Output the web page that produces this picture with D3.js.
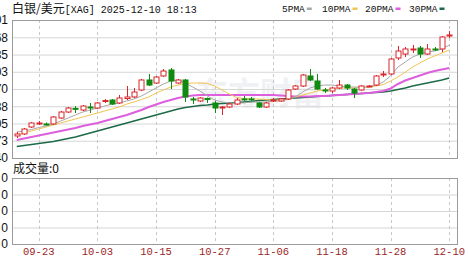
<!DOCTYPE html>
<html>
<head>
<meta charset="utf-8">
<script src="https://cdn.jsdelivr.net/npm/d3@7"></script>
<style>
  body { margin: 0; background: #fff; }
  svg { display: block; }
</style>
</head>
<body>
<div id="chart"></div>
<script>
// trading days shown on the chart
var dates = ["09-18","09-19","09-22","09-23","09-24","09-25","09-26","09-29","09-30",
  "10-01","10-02","10-03","10-06","10-07","10-08","10-09","10-10","10-13","10-14","10-15",
  "10-16","10-17","10-20","10-21","10-22","10-23","10-24","10-27","10-28","10-29","10-30","10-31",
  "11-03","11-04","11-05","11-06","11-07","11-10","11-11","11-12","11-13","11-14","11-17","11-18",
  "11-19","11-20","11-21","11-24","11-25","11-26","11-27","11-28",
  "12-01","12-02","12-03","12-04","12-05","12-08","12-09","12-10"];

var opens  = [45.37,45.64,46.58,47.05,46.99,46.99,47.79,48.60,49.10,48.87,49.28,49.14,50.02,50.22,49.82,50.42,50.63,51.57,52.92,52.51,
  53.46,54.27,52.51,52.92,50.36,50.09,50.42,49.82,49.21,49.28,49.68,50.36,50.36,49.82,49.28,50.15,50.09,50.36,51.70,52.11,
  53.46,52.78,51.57,51.43,51.84,52.24,51.70,51.57,52.04,52.24,53.66,53.73,55.89,56.42,57.03,57.23,56.42,57.10,57.10,58.85];
var highs  = [45.91,46.45,47.25,47.39,47.19,48.06,48.74,49.28,49.41,49.55,49.82,49.95,50.36,50.36,50.90,52.11,51.84,53.05,53.73,53.46,
  54.40,54.54,53.05,53.05,50.63,50.63,50.56,50.09,49.41,49.82,50.49,50.76,50.63,49.95,49.95,50.49,50.49,51.70,52.24,53.73,
  54.40,53.73,51.84,51.97,52.92,52.38,51.84,52.24,52.24,53.59,54.13,55.89,57.50,57.37,57.64,57.50,57.77,57.37,58.85,59.53];
var lows   = [45.10,45.50,46.45,46.85,46.79,46.85,47.66,48.47,48.47,48.74,48.47,49.01,49.82,49.55,49.68,50.22,50.49,51.43,52.11,52.38,
  53.32,51.70,52.38,49.95,49.68,49.95,49.82,48.47,48.20,49.14,49.55,50.09,50.09,49.14,49.14,49.95,49.95,50.22,51.57,51.97,
  52.78,51.57,51.16,51.16,51.70,51.57,50.49,51.43,51.97,52.11,53.32,53.59,55.62,56.02,56.56,55.89,56.29,56.83,56.69,58.58];
var closes = [45.64,46.31,47.12,47.12,46.95,47.93,48.60,49.14,49.05,49.41,49.21,49.82,50.15,49.68,50.49,50.63,51.30,52.92,52.24,53.32,
  54.13,52.78,52.92,50.63,50.29,50.49,50.36,49.14,49.28,49.68,50.22,50.29,50.32,49.28,49.82,50.22,50.36,51.57,52.11,53.59,
  52.92,51.70,51.50,51.84,52.24,51.84,51.16,52.11,52.11,53.46,53.73,55.75,56.83,57.10,57.10,56.42,57.10,57.03,58.72,58.99];

// moving averages
var ma5  = [45.91,46.04,46.24,46.51,46.72,46.99,47.39,47.79,48.20,48.60,48.87,49.14,49.41,49.68,49.82,50.09,50.36,50.76,51.30,51.84,
  52.38,52.78,52.92,52.51,51.97,51.43,50.76,50.22,49.95,49.82,49.82,49.82,49.95,49.95,49.95,50.09,50.09,50.36,50.63,51.30,
  51.84,52.11,52.24,52.24,52.11,51.97,51.97,51.97,51.97,52.24,52.65,53.46,54.67,55.35,56.02,56.42,56.69,56.83,57.10,57.64];
var ma10 = [45.50,45.77,46.04,46.31,46.58,46.85,47.12,47.39,47.66,47.93,48.20,48.47,48.74,49.01,49.28,49.68,49.95,50.29,50.63,51.16,
  51.57,51.97,52.24,52.45,52.51,52.51,52.45,52.11,51.57,51.03,50.56,50.42,50.36,50.36,50.29,50.22,50.22,50.29,50.63,50.90,
  51.16,51.43,51.57,51.70,51.84,51.84,51.84,51.97,51.97,52.11,52.31,52.78,53.32,53.99,54.67,55.21,55.75,56.16,56.56,56.96];
var ma20 = [44.83,45.03,45.23,45.43,45.64,45.84,46.04,46.24,46.45,46.72,46.92,47.12,47.39,47.66,47.93,48.20,48.53,48.87,49.28,49.61,
  49.95,50.22,50.49,50.69,50.83,50.90,50.90,50.90,50.90,50.90,50.90,50.90,50.90,50.90,50.90,50.90,50.83,50.76,50.69,50.69,
  50.69,50.76,50.76,50.83,50.90,50.96,51.03,51.10,51.16,51.30,51.43,51.77,52.38,52.85,53.19,53.52,53.86,54.13,54.33,54.54];
var ma30 = [43.95,44.08,44.22,44.35,44.49,44.62,44.83,45.03,45.23,45.50,45.77,46.04,46.31,46.58,46.85,47.12,47.39,47.66,47.93,48.20,
  48.47,48.74,49.01,49.21,49.35,49.48,49.55,49.68,49.75,49.82,49.88,49.95,50.02,50.15,50.22,50.29,50.36,50.42,50.49,50.56,
  50.63,50.69,50.76,50.83,50.90,50.96,51.03,51.10,51.16,51.23,51.30,51.43,51.64,51.84,52.11,52.31,52.51,52.72,52.92,53.19];

var yTicks = [42.40,44.73,47.05,49.38,51.70,54.03,56.35,58.68,61.01];
var volTicks = [0,1,2,3,4];
var volLabels = ["0","0","0","0","0"];
var xTicks = ["09-23","10-03","10-15","10-27","11-06","11-18","11-28","12-10"];
var maNames = ["5PMA","10PMA","20PMA","30PMA"];
var maColors = ["#a8a8a8","#f0c552","#dd5fdd","#1d6a48"];

var W = 468, H = 264;
var pLeft = 12, pRight = 457, pTop = 20, pBottom = 158;
var vTop = 178, vBottom = 244;

var svg = d3.select("#chart").append("svg")
    .attr("width", W)
    .attr("height", H);

var x = d3.scaleBand().domain(dates).range([pLeft, 454]).padding(0.3);
var cx = function(d) { return x(d) + x.bandwidth() / 2; };
var y = d3.scaleLinear().domain([42.40, 61.01]).range([pBottom, pTop]);
var yv = d3.scaleLinear().domain([0, 4]).range([vBottom, vTop]);

// watermark
svg.append("text")
    .attr("x", 196).attr("y", 105)
    .style("font-family", "'Noto Sans CJK SC'")
    .style("font-size", "32px")
    .style("font-weight", "bold")
    .style("fill", "#f0f1f4")
    .text("东方财富");

// horizontal grid
svg.append("g")
    .attr("transform", "translate(" + pLeft + ",0)")
    .call(d3.axisLeft(y).tickValues(yTicks).tickSize(-(pRight - pLeft)).tickFormat(""))
    .call(function(g) { g.select(".domain").remove(); })
    .selectAll("line").attr("stroke", "#d6d6d6");

svg.append("g")
    .attr("transform", "translate(" + pLeft + ",0)")
    .call(d3.axisLeft(yv).tickValues(volTicks).tickSize(-(pRight - pLeft)).tickFormat(""))
    .call(function(g) { g.select(".domain").remove(); })
    .selectAll("line").attr("stroke", "#d6d6d6");

// vertical dashed grid
[[pTop, pBottom], [vTop, vBottom]].forEach(function(r) {
  svg.append("g").selectAll("line")
    .data(xTicks)
    .enter().append("line")
      .attr("x1", function(d) { return Math.round(cx(d)) + 0.5; })
      .attr("x2", function(d) { return Math.round(cx(d)) + 0.5; })
      .attr("y1", r[0]).attr("y2", r[1])
      .attr("stroke", "#c8c8c8")
      .attr("stroke-dasharray", "3,3");
});

// y axis labels (clipped at the left edge like the original)
svg.append("g")
    .attr("transform", "translate(" + pLeft + ",0)")
    .call(d3.axisLeft(y).tickValues(yTicks).tickSize(0).tickPadding(4).tickFormat(d3.format(".2f")))
    .call(function(g) { g.select(".domain").remove(); })
    .selectAll("text")
      .style("font-family", "'Liberation Sans', Arial")
      .style("font-size", "12px")
      .attr("fill", "#111");

svg.append("g")
    .attr("transform", "translate(" + pLeft + ",0)")
    .call(d3.axisLeft(yv).tickValues(volTicks).tickSize(0).tickPadding(4)
      .tickFormat(function(d, i) { return volLabels[i]; }))
    .call(function(g) { g.select(".domain").remove(); })
    .selectAll("text")
      .style("font-family", "'Liberation Sans', Arial")
      .style("font-size", "12px")
      .attr("fill", "#111");

// x axis labels
svg.append("g")
    .attr("transform", "translate(0," + vBottom + ")")
    .call(d3.axisBottom(x).tickValues(xTicks).tickSize(0).tickPadding(4))
    .call(function(g) { g.select(".domain").remove(); })
    .selectAll("text")
      .style("font-family", "'Liberation Mono', monospace")
      .style("font-size", "10.5px")
      .attr("fill", "#9a1f1f");

// moving average lines
var mas = [ma5, ma10, ma20, ma30];
var widths = [1, 1, 2, 1.5];
var line = d3.line()
    .x(function(d, i) { return cx(dates[i]); })
    .y(function(d) { return y(d); });

[3, 2, 1, 0].forEach(function(k) {
  svg.append("path")
      .datum(mas[k])
      .attr("fill", "none")
      .attr("stroke", maColors[k])
      .attr("stroke-width", widths[k])
      .attr("d", line);
});

// candles
var up = "#d9262b", down = "#108a10";
var candles = svg.append("g").selectAll("g")
    .data(dates)
    .enter().append("g");

candles.append("line")
    .attr("x1", function(d) { return Math.round(cx(d)) + 0.5; })
    .attr("x2", function(d) { return Math.round(cx(d)) + 0.5; })
    .attr("y1", function(d, i) { return y(highs[i]); })
    .attr("y2", function(d, i) { return y(lows[i]); })
    .attr("stroke", function(d, i) { return closes[i] >= opens[i] ? up : down; });

candles.append("rect")
    .attr("x", function(d) { return Math.round(cx(d)) - 2; })
    .attr("width", 5)
    .attr("y", function(d, i) { return y(Math.max(opens[i], closes[i])); })
    .attr("height", function(d, i) { return Math.max(1, Math.abs(y(opens[i]) - y(closes[i]))); })
    .attr("fill", function(d, i) { return closes[i] >= opens[i] ? "#fff" : down; })
    .attr("stroke", function(d, i) { return closes[i] >= opens[i] ? up : down; });

// panel borders
svg.append("rect")
    .attr("x", pLeft + 0.5).attr("y", pTop + 0.5)
    .attr("width", pRight - pLeft).attr("height", pBottom - pTop)
    .attr("fill", "none").attr("stroke", "#9a9a9a");
svg.append("rect")
    .attr("x", pLeft + 0.5).attr("y", vTop + 0.5)
    .attr("width", pRight - pLeft).attr("height", vBottom - vTop)
    .attr("fill", "none").attr("stroke", "#9a9a9a");

// title
var title = svg.append("text").attr("x", 12).attr("y", 13).attr("fill", "#111");
title.append("tspan")
    .style("font-family", "'Noto Sans CJK SC'")
    .style("font-size", "12px")
    .text("白银/美元");
title.append("tspan")
    .style("font-family", "'Liberation Mono', monospace")
    .style("font-size", "10px")
    .text("[XAG] 2025-12-10 18:13");

svg.append("text")
    .attr("x", 13).attr("y", 173)
    .style("font-family", "'Noto Sans CJK SC'")
    .style("font-size", "12px")
    .attr("fill", "#111")
    .text("成交量:0");

// legend
var legendX = [282, 322, 365, 409];
var legend = svg.append("g").selectAll("g")
    .data(maNames)
    .enter().append("g")
      .attr("transform", function(d, i) { return "translate(" + legendX[i] + ",0)"; });

legend.append("text")
    .attr("y", 12)
    .style("font-family", "'Liberation Mono', monospace")
    .style("font-size", "9.5px")
    .attr("fill", "#111")
    .text(function(d) { return d; });

legend.append("rect")
    .attr("x", function(d) { return d.length * 5.7 + 2; })
    .attr("y", 7.5)
    .attr("width", 5).attr("height", 2.5)
    .attr("fill", function(d, i) { return maColors[i]; });
</script>
</body>
</html>
